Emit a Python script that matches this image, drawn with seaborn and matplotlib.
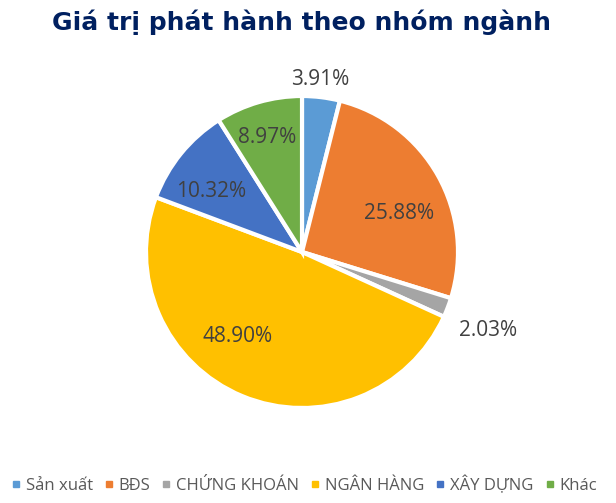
import matplotlib
matplotlib.use("Agg")
import numpy as np
import matplotlib.pyplot as plt
import seaborn as sns
from matplotlib.lines import Line2D

# data
categories = ["Sản xuất", "BĐS", "CHỨNG KHOÁN", "NGÂN HÀNG", "XÂY DỰNG", "Khác"]
shares = [3.91, 25.88, 2.03, 48.90, 10.32, 8.97]
colors = ["#5B9BD5", "#ED7D31", "#A5A5A5", "#FFC000", "#4472C4", "#70AD47"]
title = "Giá trị phát hành theo nhóm ngành"

sns.set_theme(style="white")
plt.rcParams['font.family'] = ['Open Sans', 'DejaVu Sans']

fig = plt.figure(figsize=(6.16, 5.03), dpi=100)
W, H = 616, 503
cx, cy, R = 302, 252, 156
ax = fig.add_axes([(cx - R) / W, (H - cy - R) / H, 2 * R / W, 2 * R / H])

wedges, texts, autotexts = ax.pie(
    shares, colors=sns.color_palette(colors), startangle=90, counterclock=False,
    autopct="%.2f%%", pctdistance=0.69,
    wedgeprops=dict(edgecolor="white", linewidth=3),
    textprops=dict(color="#404040", fontsize=15))
ax.set_xlim(-1, 1)
ax.set_ylim(-1, 1)
ax.set_aspect("equal")
ax.axis("off")

# label placement per slice: (radius, angle shift in degrees), like Excel's layout
placement = {0: (1.13, 1), 1: (0.675, -6.5), 2: (1.29, -1.2),
             3: (0.667, -15.5), 4: (0.706, 4.5), 5: (0.78, 0.6)}
for i, w in enumerate(wedges):
    w.set_clip_on(False)
    r, shift = placement[i]
    ang = np.deg2rad((w.theta1 + w.theta2) / 2 + shift)
    autotexts[i].set_position((r * np.cos(ang), r * np.sin(ang)))
    autotexts[i].set_verticalalignment("center_baseline")

fig.text(0.49, 0.955, title, ha="center", va="center", fontsize=18,
         fontweight="bold", color="#002060", family=["DejaVu Sans"])

handles = [Line2D([], [], marker="s", linestyle="", markersize=4.5,
                  markerfacecolor=c, markeredgecolor=c) for c in colors]
fig.legend(handles, categories, loc="center", bbox_to_anchor=(0.495, 0.036),
           ncol=6, frameon=False, fontsize=12, handlelength=0.4,
           handletextpad=0.4, columnspacing=0.75, labelcolor="#595959")

fig.savefig("out.png", dpi=100)
